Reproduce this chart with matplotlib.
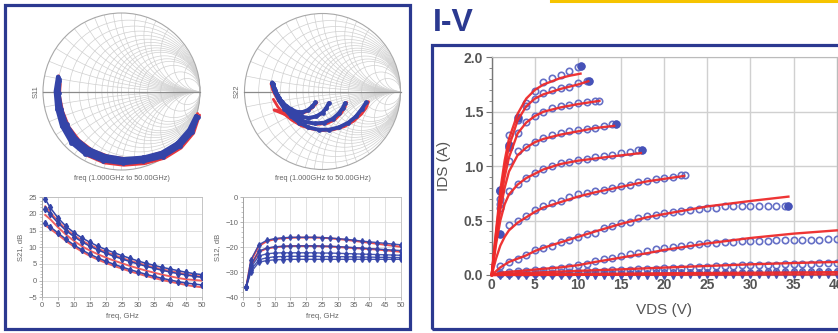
import matplotlib
matplotlib.use('Agg')
import matplotlib.pyplot as plt
from matplotlib.patches import Circle, Rectangle
from matplotlib.lines import Line2D
from matplotlib.ticker import MultipleLocator

plt.rcParams['font.family'] = ['Liberation Sans', 'DejaVu Sans']

W, H = 838, 333
fig = plt.figure(figsize=(W / 100, H / 100), dpi=100)
fig.patch.set_facecolor('white')

BLUE = '#3444A8'
RED = '#E8363C'
FRAME = '#2B3990'

# ---------------- data: S-parameters ----------------
freq = [1, 2.5, 5, 7.5, 10, 12.5, 15, 17.5, 20, 22.5, 25, 27.5, 30, 32.5, 35, 37.5, 40, 42.5, 45, 47.5, 50]

s21_blue_a = [24.5, 22.0, 18.8, 16.3, 14.4, 12.8, 11.5, 10.3, 9.3, 8.4, 7.5, 6.7, 5.9, 5.2, 4.6, 4.0, 3.5, 3.0, 2.5, 2.1, 1.8]
s21_red_a = [22.3, 20.6, 17.8, 15.4, 13.6, 12.0, 10.7, 9.6, 8.6, 7.7, 6.8, 6.0, 5.3, 4.6, 4.0, 3.4, 2.9, 2.4, 1.9, 1.5, 1.2]
s21_blue_b = [21.5, 20.0, 17.3, 15.0, 13.2, 11.6, 10.3, 9.2, 8.2, 7.3, 6.5, 5.7, 5.0, 4.3, 3.7, 3.1, 2.6, 2.1, 1.7, 1.3, 1.0]
s21_red_b = [19.7, 18.5, 16.0, 13.8, 11.9, 10.3, 9.0, 7.9, 6.9, 6.0, 5.2, 4.4, 3.7, 3.0, 2.4, 1.8, 1.3, 0.8, 0.4, 0.2, 0.0]
s21_blue_c = [17.2, 16.2, 14.3, 12.4, 10.7, 9.2, 7.9, 6.8, 5.8, 4.9, 4.1, 3.3, 2.6, 1.9, 1.3, 0.7, 0.2, -0.3, -0.7, -1.0, -1.3]
s21_red_c = [16.6, 15.6, 13.8, 11.9, 10.2, 8.7, 7.4, 6.3, 5.3, 4.4, 3.6, 2.8, 2.1, 1.4, 0.8, 0.2, -0.3, -0.8, -1.3, -1.7, -2.0]

s12_blue_a = [-36, -25, -19, -17.2, -16.5, -16.2, -16.0, -16.0, -16.0, -16.0, -16.1, -16.3, -16.5, -16.8, -17.1, -17.5, -17.8, -18.1, -18.4, -18.7, -19.0]
s12_red_a = [-36, -25.5, -19.5, -17.6, -16.8, -16.4, -16.2, -16.1, -16.1, -16.1, -16.2, -16.4, -16.7, -17.0, -17.4, -17.8, -18.2, -18.6, -19.0, -19.4, -19.8]
s12_blue_b = [-36, -27, -21.5, -20.3, -19.8, -19.6, -19.5, -19.4, -19.4, -19.4, -19.5, -19.6, -19.7, -19.9, -20.1, -20.3, -20.5, -20.7, -20.9, -21.1, -21.3]
s12_red_b = [-36, -27.5, -21.8, -20.5, -20.0, -19.7, -19.5, -19.5, -19.5, -19.5, -19.6, -19.7, -19.9, -20.1, -20.3, -20.5, -20.7, -20.9, -21.2, -21.5, -21.8]
s12_blue_c = [-36, -28, -23.5, -22.6, -22.3, -22.2, -22.2, -22.2, -22.2, -22.2, -22.3, -22.3, -22.4, -22.5, -22.6, -22.7, -22.8, -22.9, -23.0, -23.1, -23.2]
s12_blue_d = [-36, -29, -25, -24.2, -23.8, -23.7, -23.6, -23.6, -23.6, -23.6, -23.7, -23.7, -23.7, -23.8, -23.8, -23.9, -23.9, -24.0, -24.0, -24.1, -24.1]
s12_blue_e = [-36, -30, -26, -25.3, -25.0, -24.9, -24.8, -24.8, -24.8, -24.8, -24.8, -24.8, -24.8, -24.8, -24.8, -24.8, -24.8, -24.8, -24.8, -24.8, -24.8]

# Smith chart traces (real, imag of reflection coefficient)
s11_blue_outer_re = [-0.81, -0.84, -0.82, -0.76, -0.64, -0.47, -0.24, 0.02, 0.28, 0.53, 0.74, 0.90, 0.97]
s11_blue_outer_im = [0.19, 0.00, -0.22, -0.44, -0.65, -0.79, -0.88, -0.915, -0.89, -0.83, -0.70, -0.52, -0.33]
s11_blue_mid_re = [-0.80, -0.82, -0.795, -0.73, -0.61, -0.445, -0.225, 0.025, 0.28, 0.52, 0.725, 0.88, 0.96]
s11_blue_mid_im = [0.16, -0.01, -0.22, -0.43, -0.625, -0.76, -0.85, -0.89, -0.865, -0.805, -0.68, -0.505, -0.32]
s11_blue_inner_re = [-0.79, -0.80, -0.77, -0.70, -0.58, -0.42, -0.21, 0.03, 0.28, 0.51, 0.71, 0.86, 0.95]
s11_blue_inner_im = [0.13, -0.02, -0.22, -0.42, -0.60, -0.73, -0.82, -0.86, -0.84, -0.78, -0.66, -0.49, -0.31]
s11_red_outer_re = [-0.80, -0.83, -0.81, -0.74, -0.62, -0.45, -0.22, 0.03, 0.29, 0.55, 0.76, 0.92, 0.995]
s11_red_outer_im = [0.20, 0.00, -0.22, -0.45, -0.66, -0.81, -0.91, -0.94, -0.92, -0.85, -0.72, -0.53, -0.30]
s11_red_inner_re = [-0.78, -0.79, -0.75, -0.67, -0.54, -0.37, -0.15, 0.09, 0.33, 0.56, 0.75, 0.89, 0.97]
s11_red_inner_im = [0.10, -0.05, -0.25, -0.45, -0.62, -0.75, -0.83, -0.86, -0.83, -0.76, -0.63, -0.46, -0.28]

s22_blue = [
    ([-0.645, -0.62, -0.58, -0.53, -0.47, -0.40, -0.33, -0.26, -0.19, -0.13, -0.09],
     [0.115, 0.04, -0.04, -0.12, -0.18, -0.23, -0.26, -0.265, -0.24, -0.19, -0.14]),
    ([-0.645, -0.62, -0.58, -0.52, -0.45, -0.37, -0.28, -0.18, -0.08, 0.00, 0.05, 0.08],
     [0.115, 0.03, -0.05, -0.14, -0.22, -0.28, -0.32, -0.34, -0.32, -0.27, -0.21, -0.15]),
    ([-0.64, -0.61, -0.56, -0.50, -0.42, -0.33, -0.22, -0.10, 0.02, 0.13, 0.21, 0.26, 0.29],
     [0.10, 0.02, -0.08, -0.18, -0.27, -0.34, -0.39, -0.41, -0.40, -0.35, -0.28, -0.21, -0.15]),
    ([-0.64, -0.61, -0.56, -0.49, -0.40, -0.30, -0.18, -0.05, 0.08, 0.21, 0.33, 0.43, 0.50, 0.56],
     [0.09, 0.00, -0.11, -0.22, -0.32, -0.40, -0.46, -0.49, -0.49, -0.46, -0.40, -0.32, -0.23, -0.14]),
]
s22_red = [
    ([-0.66, -0.64, -0.60, -0.55, -0.49, -0.42, -0.34, -0.26, -0.18, -0.12, -0.07],
     [0.10, 0.02, -0.06, -0.14, -0.20, -0.25, -0.28, -0.28, -0.25, -0.20, -0.14]),
    ([-0.62, -0.54, -0.45, -0.36, -0.26, -0.16, -0.07, 0.01, 0.06, 0.09],
     [-0.235, -0.25, -0.28, -0.31, -0.33, -0.34, -0.32, -0.27, -0.20, -0.14]),
    ([-0.62, -0.52, -0.42, -0.31, -0.19, -0.06, 0.06, 0.16, 0.24, 0.29, 0.31],
     [-0.24, -0.28, -0.32, -0.36, -0.40, -0.42, -0.41, -0.36, -0.28, -0.20, -0.14]),
    ([-0.63, -0.57, -0.49, -0.39, -0.27, -0.14, 0.00, 0.14, 0.28, 0.40, 0.50, 0.56, 0.59],
     [-0.10, -0.20, -0.29, -0.37, -0.44, -0.48, -0.50, -0.49, -0.45, -0.38, -0.29, -0.21, -0.13]),
]

# ---------------- data: I-V ----------------
iv_meas = [
    ([1, 2, 3, 4, 5, 6, 7, 8, 9, 10, 10.4],
     [0.78, 1.29, 1.45, 1.58, 1.69, 1.77, 1.81, 1.84, 1.87, 1.91, 1.92]),
    ([1, 2, 3, 4, 5, 6, 7, 8, 9, 10, 11, 11.3],
     [0.77, 1.19, 1.42, 1.55, 1.62, 1.67, 1.70, 1.72, 1.73, 1.76, 1.78, 1.78]),
    ([1, 2, 3, 4, 5, 6, 7, 8, 9, 10, 11, 12, 12.4],
     [0.70, 1.18, 1.30, 1.41, 1.46, 1.50, 1.53, 1.55, 1.56, 1.58, 1.59, 1.60, 1.60]),
    ([1, 2, 3, 4, 5, 6, 7, 8, 9, 10, 11, 12, 13, 14, 14.4],
     [0.65, 1.05, 1.14, 1.18, 1.22, 1.26, 1.29, 1.30, 1.32, 1.33, 1.34, 1.35, 1.37, 1.39, 1.39]),
    ([1, 2, 3, 4, 5, 6, 7, 8, 9, 10, 11, 12, 13, 14, 15, 16, 17, 17.4],
     [0.62, 0.77, 0.84, 0.89, 0.94, 0.97, 1.00, 1.03, 1.04, 1.06, 1.07, 1.08, 1.09, 1.10, 1.12, 1.13, 1.15, 1.15]),
    ([1, 2, 3, 4, 5, 6, 7, 8, 9, 10, 11, 12, 13, 14, 15, 16, 17, 18, 19, 20, 21, 22, 22.4],
     [0.38, 0.46, 0.50, 0.54, 0.60, 0.63, 0.66, 0.68, 0.72, 0.74, 0.75, 0.77, 0.78, 0.80, 0.82, 0.83,
      0.85, 0.86, 0.88, 0.89, 0.90, 0.92, 0.92]),
    ([1, 2, 3, 4, 5, 6, 7, 8, 9, 10, 11, 12, 13, 14, 15, 16, 17, 18, 19, 20, 21, 22, 23, 24, 25, 26, 27,
      28, 29, 30, 31, 32, 33, 34, 34.4],
     [0.08, 0.12, 0.15, 0.18, 0.23, 0.25, 0.27, 0.30, 0.32, 0.35, 0.38, 0.39, 0.43, 0.45, 0.48, 0.49,
      0.52, 0.54, 0.55, 0.57, 0.58, 0.59, 0.60, 0.61, 0.62, 0.62, 0.63, 0.63, 0.63, 0.63, 0.63, 0.63,
      0.63, 0.63, 0.63]),
    ([1, 2, 3, 4, 5, 6, 7, 8, 9, 10, 11, 12, 13, 14, 15, 16, 17, 18, 19, 20, 21, 22, 23, 24, 25, 26, 27,
      28, 29, 30, 31, 32, 33, 34, 35, 36, 37, 38, 39, 40],
     [0.02, 0.03, 0.035, 0.04, 0.045, 0.05, 0.055, 0.065, 0.075, 0.09, 0.105, 0.125, 0.145, 0.16, 0.175,
      0.19, 0.205, 0.22, 0.235, 0.245, 0.26, 0.27, 0.28, 0.285, 0.29, 0.295, 0.30, 0.305, 0.31, 0.31,
      0.315, 0.315, 0.32, 0.32, 0.32, 0.325, 0.325, 0.325, 0.33, 0.33]),
    ([1, 2, 3, 4, 5, 6, 7, 8, 9, 10, 11, 12, 13, 14, 15, 16, 17, 18, 19, 20, 21, 22, 23, 24, 25, 26, 27,
      28, 29, 30, 31, 32, 33, 34, 35, 36, 37, 38, 39, 40],
     [0.01, 0.012, 0.014, 0.016, 0.018, 0.02, 0.022, 0.025, 0.028, 0.031, 0.034, 0.037, 0.04, 0.043,
      0.046, 0.049, 0.052, 0.055, 0.058, 0.061, 0.064, 0.067, 0.07, 0.073, 0.076, 0.079, 0.082, 0.085,
      0.088, 0.09, 0.092, 0.094, 0.096, 0.098, 0.10, 0.102, 0.104, 0.106, 0.108, 0.11]),
]
iv_low_v = [1, 2, 3, 4, 5, 6, 7, 8, 9, 10, 11, 12, 13, 14, 15, 16, 17, 18, 19, 20, 21, 22, 23, 24, 25, 26,
            27, 28, 29, 30, 31, 32, 33, 34, 35, 36, 37, 38, 39, 40]
iv_low_a = [0.005, 0.006, 0.007, 0.008, 0.009, 0.010, 0.011, 0.012, 0.013, 0.014, 0.015, 0.016, 0.017,
            0.018, 0.019, 0.020, 0.021, 0.022, 0.023, 0.024, 0.025, 0.026, 0.027, 0.028, 0.029, 0.030,
            0.030, 0.031, 0.031, 0.032, 0.032, 0.033, 0.033, 0.034, 0.034, 0.035, 0.035, 0.035, 0.036, 0.036]
iv_off_a = [0.0, 0.0, 0.0, 0.0, 0.0, 0.001, 0.001, 0.001, 0.001, 0.002, 0.002, 0.002, 0.002, 0.003,
            0.003, 0.003, 0.003, 0.004, 0.004, 0.004, 0.004, 0.005, 0.005, 0.005, 0.005, 0.006, 0.006,
            0.006, 0.006, 0.007, 0.007, 0.007, 0.007, 0.008, 0.008, 0.008, 0.008, 0.009, 0.009, 0.009]
iv_filled_v = [1, 2, 3, 1, 2, 1, 10.4, 11.3, 14.4, 17.4, 34.4]
iv_filled_a = [0.78, 1.19, 1.44, 0.38, 1.18, 0.77, 1.92, 1.78, 1.39, 1.15, 0.63]

iv_model = [
    ([0, 0.5, 1, 1.5, 2, 3, 4, 5, 6, 7, 8, 9, 10.3],
     [0, 0.40, 0.78, 1.05, 1.25, 1.48, 1.62, 1.70, 1.75, 1.78, 1.81, 1.83, 1.85]),
    ([0, 0.5, 1, 1.5, 2, 3, 4, 5, 6, 8, 10, 11.2],
     [0, 0.38, 0.72, 0.98, 1.18, 1.42, 1.55, 1.62, 1.66, 1.71, 1.75, 1.78]),
    ([0, 0.5, 1, 1.5, 2, 3, 4, 5, 6, 8, 10, 12.5],
     [0, 0.35, 0.66, 0.90, 1.08, 1.30, 1.40, 1.46, 1.50, 1.54, 1.57, 1.60]),
    ([0, 0.5, 1, 1.5, 2, 3, 4, 5, 6, 8, 10, 12, 14.2],
     [0, 0.32, 0.60, 0.80, 0.95, 1.10, 1.17, 1.22, 1.25, 1.29, 1.32, 1.35, 1.37]),
    ([0, 0.5, 1, 1.5, 2, 3, 4, 5, 6, 8, 10, 12, 14, 17.3],
     [0, 0.28, 0.50, 0.65, 0.74, 0.83, 0.89, 0.93, 0.97, 1.02, 1.05, 1.07, 1.09, 1.12]),
    ([0, 0.5, 1, 1.5, 2, 3, 4, 5, 6, 8, 10, 12, 15, 18, 22.3],
     [0, 0.15, 0.27, 0.35, 0.41, 0.48, 0.53, 0.58, 0.62, 0.67, 0.72, 0.76, 0.81, 0.86, 0.91]),
    ([0, 1, 2, 3, 4, 5, 6, 8, 10, 12, 15, 18, 20, 25, 30, 34.4],
     [0, 0.07, 0.12, 0.15, 0.18, 0.22, 0.25, 0.30, 0.35, 0.40, 0.47, 0.53, 0.56, 0.63, 0.68, 0.72]),
    ([0, 1, 2, 3, 5, 8, 10, 12, 15, 18, 20, 25, 30, 35, 40],
     [0, 0.02, 0.03, 0.035, 0.05, 0.07, 0.09, 0.12, 0.16, 0.20, 0.23, 0.29, 0.34, 0.38, 0.41]),
    ([0, 2, 5, 10, 15, 20, 25, 30, 35, 40],
     [0, 0.012, 0.022, 0.038, 0.052, 0.068, 0.083, 0.098, 0.11, 0.12]),
    ([0, 5, 10, 20, 30, 40],
     [0, 0.006, 0.01, 0.016, 0.021, 0.026]),
    ([0, 40],
     [0, 0.006]),
]

s21_ticks_x = [0, 5, 10, 15, 20, 25, 30, 35, 40, 45, 50]
s21_ticks_y = [-5, 0, 5, 10, 15, 20, 25]
s12_ticks_y = [-40, -30, -20, -10, 0]
iv_ticks_x = [0, 5, 10, 15, 20, 25, 30, 35, 40]
iv_ticks_y = [0.0, 0.5, 1.0, 1.5, 2.0]
smith_r = [0.1, 0.2, 0.3, 0.4, 0.5, 0.6, 0.7, 0.8, 0.9, 1.0, 1.2, 1.4, 1.6, 2.0, 3.0, 5.0]
smith_x = [0.1, 0.2, 0.3, 0.4, 0.5, 0.6, 0.7, 0.8, 0.9, 1.0, 1.2, 1.4, 1.6, 2.0, 3.0, 5.0]


def add_axes_px(x0, y0, x1, y1):
    return fig.add_axes([x0 / W, (H - y1) / H, (x1 - x0) / W, (y1 - y0) / H])


def ftext(x, y, s, **kw):
    fig.text(x / W, 1 - y / H, s, **kw)


# ---------------- frames ----------------
fig.add_artist(Rectangle((5 / W, (H - 329) / H), (410 - 5) / W, (329 - 5) / H, transform=fig.transFigure,
                         fill=False, ec=FRAME, lw=2.3))
fig.add_artist(Rectangle((431.5 / W, (H - 329) / H), (850 - 431.5) / W, (329 - 45) / H, transform=fig.transFigure,
                         fill=False, ec=FRAME, lw=2.3))
fig.add_artist(Line2D([551 / W, 1.0], [1 - 1 / H, 1 - 1 / H], transform=fig.transFigure, color='#F6C400', lw=2.2))
ftext(433, 23, 'I-V', fontsize=23, fontweight='bold', color=FRAME, va='center', ha='left')


# ---------------- Smith charts ----------------
def smith(cx, cy, rad, label, blues, reds):
    m = 1.06
    ax = add_axes_px(cx - m * rad, cy - m * rad, cx + m * rad, cy + m * rad)
    ax.set_xlim(-m, m)
    ax.set_ylim(-m, m)
    ax.axis('off')
    clip = Circle((0, 0), 1, transform=ax.transData)
    gc = '#D0D0D0'
    for r in smith_r:
        ax.add_patch(Circle((r / (1 + r), 0), 1 / (1 + r), fill=False, ec=gc, lw=0.5))
    for xv in smith_x:
        for sgn in (1, -1):
            p = Circle((1, sgn / xv), 1 / xv, fill=False, ec=gc, lw=0.5)
            ax.add_patch(p)
            p.set_clip_path(clip)
    ax.add_patch(Circle((0, 0), 1, fill=False, ec='#A8A8A8', lw=0.8))
    ax.plot([-1, 1], [0, 0], color='#8A8A8A', lw=0.9)
    for (re, im) in reds:
        ax.plot(re, im, color=RED, lw=2.0, solid_capstyle='round', zorder=3)
    for (re, im) in blues:
        ax.plot(re, im, color=BLUE, lw=2.8, marker='o', ms=2.4, solid_capstyle='round', zorder=4)
    ftext(cx - rad - 7, cy, label, fontsize=5.5, color='#666666', rotation=90, ha='center', va='center')
    ftext(cx, cy + rad + 9, 'freq (1.000GHz to 50.00GHz)', fontsize=5.3, color='#666666', ha='center', va='center')
    return ax


smith(121.5, 91.5, 78.5, 'S11',
      [(s11_blue_outer_re, s11_blue_outer_im), (s11_blue_mid_re, s11_blue_mid_im),
       (s11_blue_inner_re, s11_blue_inner_im)],
      [(s11_red_outer_re, s11_red_outer_im), (s11_red_inner_re, s11_red_inner_im)])
smith(322.5, 91.5, 78.0, 'S22', s22_blue, s22_red)


# ---------------- S21 / S12 rectangular ----------------
def style_small(ax, yt, ylim, ylabel, minor):
    ax.set_xlim(0, 50)
    ax.set_ylim(*ylim)
    ax.set_xticks(s21_ticks_x)
    ax.set_yticks(yt)
    ax.yaxis.set_minor_locator(MultipleLocator(minor))
    ax.grid(True, color='#DCDCDC', lw=0.6)
    ax.set_axisbelow(True)
    for s in ax.spines.values():
        s.set_color('#BBBBBB')
        s.set_linewidth(0.6)
    ax.spines['left'].set_color('#999999')
    ax.tick_params(axis='both', which='major', length=2, width=0.5, color='#999999',
                   labelsize=5.5, labelcolor='#666666', pad=1.5)
    ax.tick_params(axis='y', which='minor', length=1.2, width=0.4, color='#999999')
    ax.set_xlabel('freq, GHz', fontsize=5.5, color='#666666', labelpad=3)
    ax.set_ylabel(ylabel, fontsize=5.5, color='#666666', labelpad=3)


ax21 = add_axes_px(42, 197.3, 202, 297.3)
for ys in (s21_red_a, s21_red_b, s21_red_c):
    ax21.plot(freq, ys, color='#EE6060', lw=1.4, zorder=3)
for ys in (s21_blue_a, s21_blue_b, s21_blue_c):
    ax21.plot(freq, ys, color=BLUE, lw=1.1, marker='d', ms=3.2, zorder=4)
style_small(ax21, s21_ticks_y, (-5, 25), 'S21, dB', 1)

ax12 = add_axes_px(243, 197.3, 401, 297.3)
for ys in (s12_red_a, s12_red_b):
    ax12.plot(freq, ys, color='#EE5050', lw=1.4, zorder=3)
for ys in (s12_blue_a, s12_blue_b, s12_blue_c, s12_blue_d, s12_blue_e):
    ax12.plot(freq, ys, color=BLUE, lw=1.0, marker='d', ms=3.0, zorder=4, alpha=0.9)
style_small(ax12, s12_ticks_y, (-40, 0), 'S12, dB', 2)

# ---------------- I-V ----------------
axiv = add_axes_px(491.7, 57.3, 836.7, 275)
axiv.set_xlim(0, 40)
axiv.set_ylim(0, 2.0)
axiv.set_xticks(iv_ticks_x)
axiv.set_yticks(iv_ticks_y)
axiv.set_yticklabels(['0.0', '0.5', '1.0', '1.5', '2.0'])
axiv.yaxis.set_minor_locator(MultipleLocator(0.1))
axiv.grid(True, color='#D0D0D0', lw=1.0)
axiv.set_axisbelow(True)
for s in axiv.spines.values():
    s.set_color('#BBBBBB')
    s.set_linewidth(0.8)
axiv.spines['left'].set_color('#777777')
axiv.spines['left'].set_linewidth(1.0)
axiv.spines['bottom'].set_color('#999999')
axiv.tick_params(axis='both', which='major', length=4, width=0.8, color='#777777',
                 labelsize=10, labelcolor='#555555', pad=2)
for lab in axiv.get_xticklabels() + axiv.get_yticklabels():
    lab.set_fontweight('bold')
axiv.tick_params(axis='y', which='minor', length=2.5, width=0.6, color='#777777')
axiv.tick_params(axis='x', which='major', length=0)
axiv.set_xlabel('VDS (V)', fontsize=11, color='#555555', labelpad=8)
axiv.set_ylabel('IDS (A)', fontsize=11, color='#555555', labelpad=9)

for (vv, ii) in iv_meas:
    axiv.plot(vv, ii, ls='none', marker='o', ms=4.6, mfc='none', mec='#6670C6', mew=1.2, zorder=3, clip_on=False)
axiv.plot(iv_low_v, iv_low_a, ls='none', marker='o', ms=4.0, mfc='#7A82CF', mec='#5560B8', mew=1.0, zorder=3,
          clip_on=False)
axiv.plot(iv_low_v, iv_off_a, ls='none', marker='d', ms=4.2, mfc='#4652B2', mec='#4652B2', zorder=3,
          clip_on=False)
axiv.plot(iv_filled_v, iv_filled_a, ls='none', marker='o', ms=5.0, mfc='#4652B8', mec='#4652B8', zorder=3,
          clip_on=False)
for (vv, ii) in iv_model:
    axiv.plot(vv, ii, color='#EE2A2A', lw=1.7, zorder=4, clip_on=False, alpha=0.95)

fig.savefig('out.png', dpi=100, facecolor='white')
